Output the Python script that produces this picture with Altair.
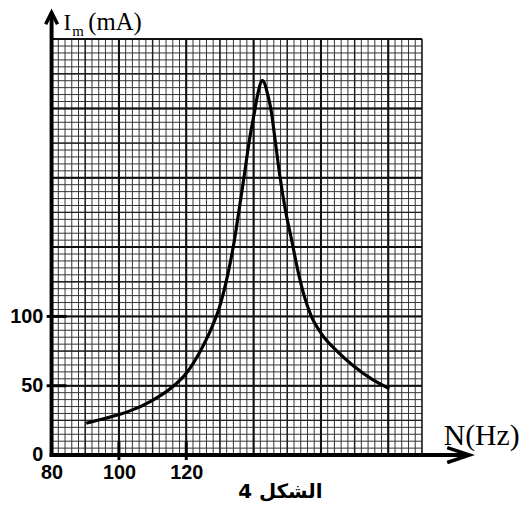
import altair as alt
import pandas as pd
import numpy as np

# Resonance curve data
freq_hz = [90.3, 96, 102.9, 110, 115.6, 120, 124.4, 127.4, 129.9, 132.4, 134.3, 135.8, 137.3,
           138.7, 140.3, 141.2, 142.6, 144.3, 145.3, 146.4, 147.7, 149.3, 151.3, 153.2,
           155, 157, 160, 165, 169.7, 175, 180.3]
current_ma = [23, 26.5, 31.5, 39.5, 48.5, 59, 76, 91, 107, 131, 155, 178.6, 202.9,
              226.4, 247.9, 260, 270, 259, 247, 227, 203, 178.6, 155, 132.5,
              115, 101, 88, 74.5, 64.3, 55, 48]

x_tick_labels = [80, 100, 120]
y_tick_labels = [0, 50, 100]
x_tick_marks = [100, 120]
y_tick_marks = [50, 100]

X_MIN, X_MAX = 80, 190
Y_MIN, Y_MAX = 0, 300
W, H = 374, 420

xs = alt.Scale(domain=[X_MIN, X_MAX], nice=False, zero=False)
ys = alt.Scale(domain=[Y_MIN, Y_MAX], nice=False, zero=False)

xaxis = alt.Axis(values=x_tick_labels, domain=False, ticks=False, tickSize=0,
                 grid=False, title=None, labelFont="Liberation Sans",
                 labelFontWeight="bold", labelFontSize=20, labelColor="black",
                 labelPadding=8, labelFlush=False)
yaxis = alt.Axis(values=y_tick_labels, domain=False, ticks=False, tickSize=0,
                 grid=False, title=None, labelFont="Liberation Sans",
                 labelFontWeight="bold", labelFontSize=20, labelColor="black",
                 labelPadding=9, labelFlush=False)

def X(f="N"):
    return alt.X(f + ":Q", scale=xs, axis=xaxis)

def Y(f="I"):
    return alt.Y(f + ":Q", scale=ys, axis=yaxis)

curve = pd.DataFrame({"N": freq_hz, "I": current_ma})

def vgrid(step, width, color):
    df = pd.DataFrame({"N": list(np.arange(X_MIN, X_MAX + 0.01, step))})
    return alt.Chart(df).mark_rule(strokeWidth=width, color=color).encode(x=X())

def hgrid(step, width, color):
    df = pd.DataFrame({"I": list(np.arange(Y_MIN, Y_MAX + 0.01, step))})
    return alt.Chart(df).mark_rule(strokeWidth=width, color=color).encode(y=Y())

grid = [
    vgrid(2, 1, "#333333"), hgrid(5, 1, "#333333"),
    vgrid(10, 1.4, "#1e1e1e"), hgrid(25, 1.4, "#1e1e1e"),
    vgrid(20, 2, "#111111"), hgrid(50, 2, "#111111"),
]

line = alt.Chart(curve).mark_line(color="black", strokeWidth=3.2, interpolate="monotone",
                                  clip=False).encode(x=X(), y=Y())

one = pd.DataFrame({"a": [0]})

x_ticks = alt.Chart(pd.DataFrame({"N": x_tick_marks})).mark_rule(color="black", strokeWidth=3).encode(
    x=X(), y=alt.value(H - 14), y2=alt.value(H + 5))
y_ticks = alt.Chart(pd.DataFrame({"I": y_tick_marks})).mark_rule(color="black", strokeWidth=3).encode(
    y=Y(), x=alt.value(-5), x2=alt.value(15))

x_axis_line = alt.Chart(one).mark_rule(color="black", strokeWidth=4).encode(
    x=alt.value(-2), x2=alt.value(421), y=alt.value(H))
y_axis_line = alt.Chart(one).mark_rule(color="black", strokeWidth=4).encode(
    x=alt.value(0), y=alt.value(-26), y2=alt.value(H + 2))

x_arrow = alt.Chart(one).mark_point(shape="M-3,-1L0,0L-3,1", filled=False, size=225,
                                    color="black", strokeWidth=3.5, opacity=1).encode(
    x=alt.value(422), y=alt.value(H))
y_arrow = alt.Chart(one).mark_point(shape="M-1,2L0,0L1,2", filled=False, size=144,
                                    color="black", strokeWidth=3.5, opacity=1).encode(
    x=alt.value(0), y=alt.value(-27))

def label(text, x, y, size, font="Liberation Serif", weight="normal", align="left"):
    return alt.Chart(one).mark_text(text=text, font=font, fontSize=size, fontWeight=weight,
                                    align=align, baseline="alphabetic", color="black").encode(
        x=alt.value(x), y=alt.value(y))

texts = [
    label("I", 12, -9, 23),
    label("m", 21, -3, 15),
    label("(mA)", 37, -9, 25),
    label("N(Hz)", 396, 410, 30),
    label("4 الشكل", 231, 463, 20, font="DejaVu Sans", weight="bold", align="center"),
]

chart = alt.layer(*grid, line, x_ticks, y_ticks,
                  x_axis_line, y_axis_line, x_arrow, y_arrow, *texts).properties(
    width=W, height=H,
    autosize=alt.AutoSizeParams(type="none"),
    padding={"left": 44, "top": 29, "right": 100, "bottom": 47},
    background="white",
).configure_view(stroke=None)

chart.save("out.html", embed_options={"renderer": "svg", "actions": False})
